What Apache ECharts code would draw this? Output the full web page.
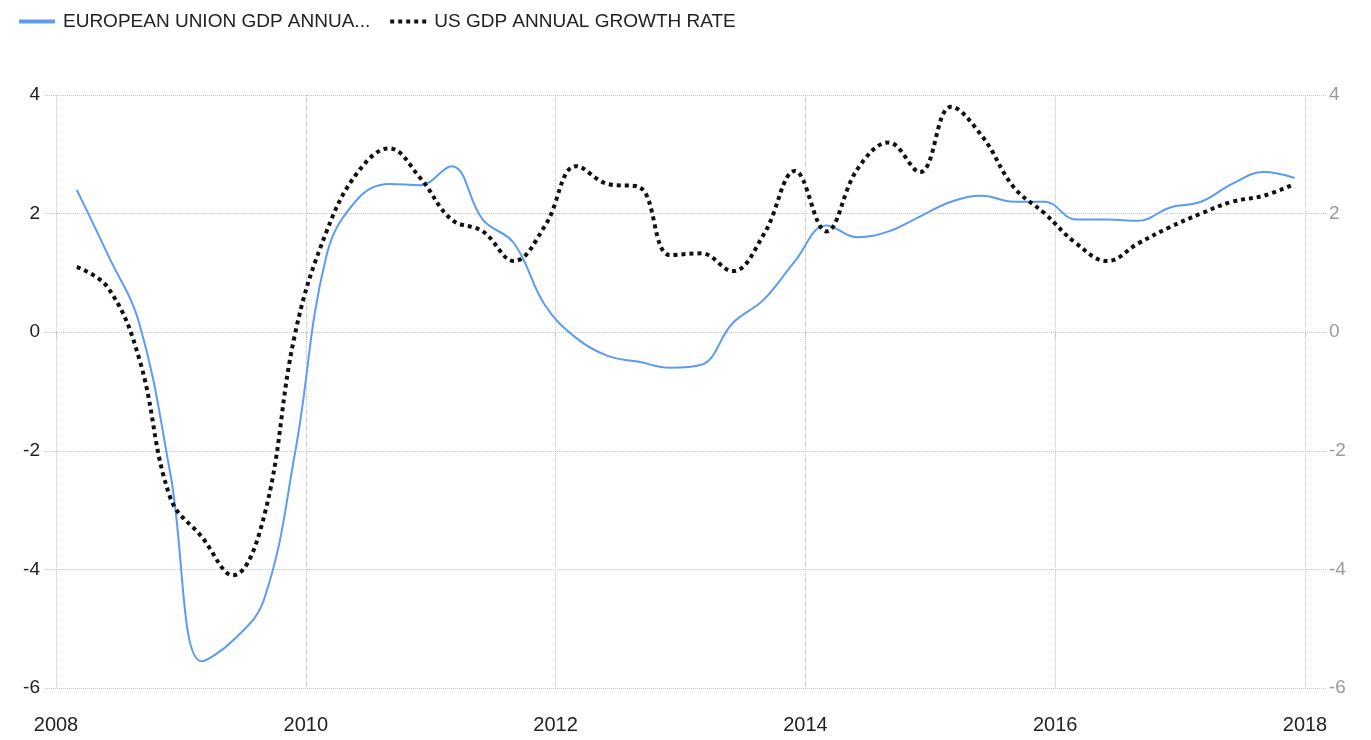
<!DOCTYPE html>
<html>
<head>
<meta charset="utf-8">
<script src="https://cdn.jsdelivr.net/npm/echarts@6/dist/echarts.min.js"></script>
<style>
  html, body { margin: 0; padding: 0; background: #fff; }
  #chart { width: 1371px; height: 740px; }
</style>
</head>
<body>
<div id="chart"></div>
<script>
  // quarterly readings, year-month of each point
  const quarters = [
    '2008-03', '2008-06', '2008-09', '2008-12', '2009-03', '2009-06', '2009-09', '2009-12',
    '2010-03', '2010-06', '2010-09', '2010-12', '2011-03', '2011-06', '2011-09', '2011-12',
    '2012-03', '2012-06', '2012-09', '2012-12', '2013-03', '2013-06', '2013-09', '2013-12',
    '2014-03', '2014-06', '2014-09', '2014-12', '2015-03', '2015-06', '2015-09', '2015-12',
    '2016-03', '2016-06', '2016-09', '2016-12', '2017-03', '2017-06', '2017-09', '2017-12'
  ];
  const euGrowth = [
    2.4, 1.3, 0.15, -2.4, -5.55, -5.2, -4.5, -2.0,
    1.3, 2.25, 2.5, 2.48, 2.8, 1.9, 1.5, 0.45,
    -0.1, -0.4, -0.5, -0.6, -0.55, 0.15, 0.55, 1.2,
    1.8, 1.6, 1.7, 1.95, 2.2, 2.3, 2.2, 2.2,
    1.9, 1.9, 1.88, 2.1, 2.2, 2.5, 2.7, 2.6
  ];
  const usGrowth = [
    1.1, 0.75, -0.45, -2.8, -3.45, -4.1, -3.1, 0.0,
    1.7, 2.7, 3.1, 2.6, 1.9, 1.7, 1.2, 1.8,
    2.8, 2.5, 2.45, 1.3, 1.33, 1.03, 1.65, 2.72,
    1.7, 2.75, 3.2, 2.7, 3.8, 3.3, 2.45, 2.0,
    1.5, 1.2, 1.5, 1.77, 2.0, 2.2, 2.3, 2.5
  ];
  const euName = 'EUROPEAN UNION GDP ANNUAL GROWTH RATE';
  const usName = 'US GDP ANNUAL GROWTH RATE';

  function toYear(s) {
    let p = s.split('-');
    return Number(p[0]) + (Number(p[1]) - 1) / 12;
  }
  function pairs(values) {
    return quarters.map(function (q, i) { return [toYear(q), values[i]]; });
  }

  const font = "'Liberation Sans', Arial, sans-serif";

  let ec = echarts.init(document.getElementById('chart'));
  let option = {
    animation: false,
    backgroundColor: '#fff',
    legend: {
      left: 12,
      top: 7,
      itemWidth: 36,
      itemHeight: 14,
      itemGap: 18,
      itemStyle: { opacity: 0 },
      textStyle: { fontFamily: font, fontSize: 19, color: '#222', padding: [0, 0, 0, 3] },
      formatter: function (name) {
        return name.length > 30 ? name.slice(0, 24) + '...' : name;
      },
      data: [
        { name: euName, lineStyle: { width: 4 } },
        { name: usName, lineStyle: { width: 4 } }
      ]
    },
    grid: [
      { left: 45, right: 44, top: 95, bottom: 52 },
      { left: 56, right: 66, top: 95, bottom: 52 }
    ],
    xAxis: [
      { gridIndex: 0, type: 'value', min: 0, max: 1, show: false },
      {
        gridIndex: 1,
        type: 'value',
        min: 2008,
        max: 2018,
        interval: 2,
        axisLine: { show: false },
        axisTick: { show: true, length: 6, lineStyle: { color: '#c8c8c8' } },
        axisLabel: {
          margin: 27, fontSize: 20, fontFamily: font, color: '#222',
          formatter: function (v) { return String(v); }
        },
        splitLine: { show: true, lineStyle: { type: 'dotted', color: '#c8c8c8' } }
      }
    ],
    yAxis: [
      {
        gridIndex: 0,
        type: 'value',
        min: -6,
        max: 4,
        interval: 2,
        axisLabel: { show: false },
        axisLine: { show: false },
        axisTick: { show: false },
        splitLine: { show: true, lineStyle: { type: 'dotted', color: '#c8c8c8' } }
      },
      {
        gridIndex: 1,
        type: 'value',
        position: 'left',
        min: -6,
        max: 4,
        interval: 2,
        axisLine: { show: false },
        axisTick: { show: false },
        splitLine: { show: false },
        axisLabel: { margin: 16, fontSize: 19, fontFamily: font, color: '#222' }
      },
      {
        gridIndex: 1,
        type: 'value',
        position: 'right',
        min: -6,
        max: 4,
        interval: 2,
        axisLine: { show: false },
        axisTick: { show: false },
        splitLine: { show: false },
        axisLabel: { margin: 24, fontSize: 19, fontFamily: font, color: '#999' }
      }
    ],
    series: [
      {
        name: euName,
        type: 'line',
        xAxisIndex: 1,
        yAxisIndex: 1,
        smooth: 0.4,
        symbol: 'none',
        lineStyle: { color: '#5b9cf2', width: 2 },
        itemStyle: { color: '#5b9cf2' },
        data: pairs(euGrowth)
      },
      {
        name: usName,
        type: 'line',
        xAxisIndex: 1,
        yAxisIndex: 1,
        smooth: 0.4,
        symbol: 'none',
        lineStyle: { color: '#111', width: 4, type: [4, 4] },
        itemStyle: { color: '#111' },
        data: pairs(usGrowth)
      }
    ]
  };
  ec.setOption(option);
</script>
</body>
</html>
